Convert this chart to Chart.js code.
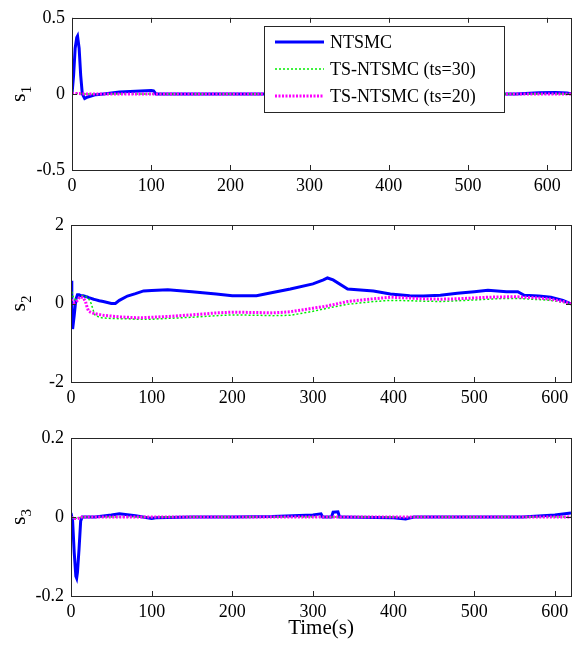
<!DOCTYPE html>
<html lang="en">
<head>
  <meta charset="UTF-8">
  <title>Sliding surfaces s1, s2, s3</title>
  <script src="https://cdn.jsdelivr.net/npm/chart.js"></script>
  <style>
    body { margin: 0; background: #fff; }
    #wrap { position: relative; width: 581px; height: 648px; }
    #wrap canvas { position: absolute; left: 0; }
  </style>
</head>
<body>
  <div id="wrap">
    <canvas id="c1" width="581" height="205" style="top:0"></canvas>
    <canvas id="c2" width="581" height="210" style="top:205px"></canvas>
    <canvas id="c3" width="581" height="233" style="top:415px"></canvas>
  </div>

  <script>
    const FONT = '"Liberation Serif", "Times New Roman", serif';
    const seriesNames = ['NTSMC', 'TS-NTSMC (ts=30)', 'TS-NTSMC (ts=20)'];
    const seriesColors = ['#0000ff', '#00ee00', '#ff00ff'];

    // s1
    const s1Time  = [0, 2, 4, 6, 7, 9, 11, 13, 16, 20, 30, 40, 60, 80, 100, 103, 106, 150, 200, 300, 400, 500, 560, 590, 610, 625, 630];
    const s1Ntsmc = [0, 0.12, 0.3, 0.37, 0.38, 0.3, 0.12, 0.0, -0.03, -0.02, -0.005, 0, 0.012, 0.018, 0.022, 0.02, 0, 0, 0, 0, 0, 0, 0, 0.008, 0.01, 0.006, 0];
    const s1Ts30  = [0, 0.003, 0.004, 0.003, 0.003, 0.002, 0.002, 0.001, 0, 0, 0, 0, 0, 0, 0, 0, 0, 0, 0, 0, 0, 0, 0, 0, 0, 0, 0];
    const s1Ts20  = [0, 0.002, 0.003, 0.003, 0.002, 0.002, 0.001, 0.001, 0, 0, 0, 0, 0, 0, 0, 0, 0, 0, 0, 0, 0, 0, 0, 0, 0, 0, 0];
    const s1XTicks = [0, 100, 200, 300, 400, 500, 600];
    const s1YTicks = [-0.5, 0, 0.5];

    // s2
    const s2Time  = [0, 1, 2, 4, 6, 8, 10, 12, 15, 18, 20, 22, 25, 28, 30, 35, 40, 50, 55, 60, 70, 80, 90, 100, 120, 150, 180, 200, 230, 250, 272, 300, 313, 318, 325, 343, 375, 396, 420, 437, 458, 479, 500, 517, 540, 554, 562, 580, 595, 610, 620];
    const s2Ntsmc = [0.58, -0.2, -0.65, -0.3, 0.1, 0.22, 0.22, 0.2, 0.2, 0.18, 0.17, 0.15, 0.13, 0.11, 0.1, 0.07, 0.05, 0.0, 0.0, 0.08, 0.19, 0.25, 0.32, 0.33, 0.35, 0.3, 0.24, 0.2, 0.2, 0.28, 0.37, 0.5, 0.6, 0.65, 0.6, 0.37, 0.32, 0.24, 0.2, 0.19, 0.21, 0.26, 0.3, 0.34, 0.3, 0.3, 0.21, 0.19, 0.16, 0.08, -0.01];
    const s2Ts30  = [0.4, 0.3, 0.2, 0.12, 0.1, 0.12, 0.15, 0.18, 0.2, 0.18, 0.15, 0.12, 0.0, -0.2, -0.3, -0.35, -0.37, -0.38, -0.38, -0.39, -0.39, -0.4, -0.4, -0.4, -0.38, -0.35, -0.31, -0.29, -0.3, -0.31, -0.3, -0.2, -0.14, -0.12, -0.09, -0.02, 0.05, 0.08, 0.07, 0.06, 0.05, 0.07, 0.09, 0.11, 0.13, 0.13, 0.12, 0.1, 0.08, 0.03, -0.03];
    const s2Ts20  = [0.1, 0.08, 0.05, 0.02, 0.03, 0.08, 0.14, 0.17, 0.15, 0.05, -0.1, -0.2, -0.23, -0.25, -0.26, -0.28, -0.3, -0.32, -0.33, -0.34, -0.35, -0.36, -0.36, -0.35, -0.33, -0.29, -0.24, -0.22, -0.23, -0.24, -0.21, -0.12, -0.08, -0.06, -0.03, 0.05, 0.12, 0.16, 0.14, 0.12, 0.11, 0.12, 0.14, 0.16, 0.17, 0.17, 0.16, 0.14, 0.11, 0.05, -0.01];
    const s2XTicks = [0, 100, 200, 300, 400, 500, 600];
    const s2YTicks = [-2, 0, 2];

    // s3
    const s3Time  = [0, 2, 4, 6, 7, 8, 10, 12, 14, 20, 30, 50, 60, 80, 100, 105, 150, 200, 250, 300, 310, 312, 323, 325, 331, 333, 335, 400, 415, 425, 500, 560, 600, 620];
    const s3Ntsmc = [0.01, -0.01, -0.09, -0.15, -0.155, -0.14, -0.08, -0.01, 0, 0, 0, 0.005, 0.008, 0.003, -0.004, -0.002, 0, 0, 0.001, 0.005, 0.008, 0, 0, 0.012, 0.013, 0, 0, -0.002, -0.005, 0, 0, 0, 0.005, 0.01];
    const s3Ts30  = [0, -0.002, -0.003, -0.003, -0.003, -0.003, -0.002, -0.001, 0, 0, 0, 0, 0, 0, 0, 0, 0, 0, 0, 0, 0, 0, 0, 0, 0, 0, 0, 0, 0, 0, 0, 0, 0, 0];
    const s3Ts20  = [0, -0.003, -0.004, -0.004, -0.004, -0.004, -0.003, -0.002, 0, 0, 0, 0, 0, 0, 0, 0, 0, 0, 0, 0, 0, 0, 0, 0, 0, 0, 0, 0, 0, 0, 0, 0, 0, 0];
    const s3XTicks = [0, 100, 200, 300, 400, 500, 600];
    const s3YTicks = [-0.2, 0, 0.2];

    function pts(t, v) {
      return t.map((x, i) => ({ x: x, y: v[i] }));
    }

    function makeDatasets(t, a, b, c) {
      return [
        { label: seriesNames[0], data: pts(t, a), borderColor: seriesColors[0], borderWidth: 3, order: 3 },
        { label: seriesNames[1], data: pts(t, b), borderColor: seriesColors[1], borderWidth: 1.5, borderDash: [2, 2], order: 2 },
        { label: seriesNames[2], data: pts(t, c), borderColor: seriesColors[2], borderWidth: 3, borderDash: [2, 1.5], order: 1 }
      ];
    }

    // box, inward ticks, y title with subscript, optional legend and x title
    const framePlugin = {
      id: 'frame',
      afterDatasetsDraw(chart, args, opts) {
        const ctx = chart.ctx;
        const a = chart.chartArea;
        const xs = chart.scales.x, ys = chart.scales.y;
        ctx.save();
        ctx.strokeStyle = '#262626';
        ctx.lineWidth = 1;
        ctx.strokeRect(Math.round(a.left) + 0.5, Math.round(a.top) + 0.5, Math.round(a.width), Math.round(a.height));
        ctx.beginPath();
        xs.ticks.forEach(t => {
          const px = Math.round(xs.getPixelForValue(t.value)) + 0.5;
          ctx.moveTo(px, a.top); ctx.lineTo(px, a.top + 5);
          ctx.moveTo(px, a.bottom); ctx.lineTo(px, a.bottom - 5);
        });
        ys.ticks.forEach(t => {
          const py = Math.round(ys.getPixelForValue(t.value)) + 0.5;
          ctx.moveTo(a.left, py); ctx.lineTo(a.left + 5, py);
          ctx.moveTo(a.right, py); ctx.lineTo(a.right - 5, py);
        });
        ctx.stroke();

        // y title
        ctx.fillStyle = '#000';
        ctx.save();
        ctx.translate(25, (a.top + a.bottom) / 2);
        ctx.rotate(-Math.PI / 2);
        ctx.textBaseline = 'alphabetic';
        ctx.font = '22px ' + FONT;
        const sw = ctx.measureText('s').width;
        ctx.font = '15px ' + FONT;
        const subw = ctx.measureText(opts.sub).width;
        const u0 = -(sw + subw) / 2;
        ctx.font = '22px ' + FONT;
        ctx.fillText('s', u0, 0);
        ctx.font = '15px ' + FONT;
        ctx.fillText(opts.sub, u0 + sw, 6);
        ctx.restore();

        if (opts.legend) {
          const lx = 264, ly = 26, lw = 240, lh = 86;
          ctx.fillStyle = '#fff';
          ctx.fillRect(lx, ly, lw, lh);
          ctx.strokeStyle = '#262626';
          ctx.strokeRect(lx + 0.5, ly + 0.5, lw, lh);
          const rows = [42, 69, 96];
          chart.data.datasets.forEach((ds, i) => {
            ctx.save();
            ctx.strokeStyle = ds.borderColor;
            ctx.lineWidth = ds.borderWidth;
            ctx.setLineDash(ds.borderDash || []);
            ctx.beginPath();
            ctx.moveTo(275, rows[i]);
            ctx.lineTo(324, rows[i]);
            ctx.stroke();
            ctx.restore();
            ctx.fillStyle = '#000';
            ctx.font = '18px ' + FONT;
            ctx.textBaseline = 'middle';
            ctx.fillText(ds.label, 330, rows[i] + 1);
          });
        }

        if (opts.xTitle) {
          ctx.fillStyle = '#000';
          ctx.font = '21px ' + FONT;
          ctx.textAlign = 'center';
          ctx.textBaseline = 'middle';
          ctx.fillText(opts.xTitle, 321, 213);
        }
        ctx.restore();
      }
    };

    function makePanel(id, p) {
      const canvas = document.getElementById(id);
      return new Chart(canvas.getContext('2d'), {
        type: 'line',
        data: { datasets: makeDatasets(p.t, p.a, p.b, p.c) },
        plugins: [framePlugin],
        options: {
          responsive: false,
          animation: false,
          parsing: false,
          elements: { point: { radius: 0 }, line: { tension: 0 } },
          layout: { padding: { top: p.top, right: 10, left: 0, bottom: 0 } },
          plugins: {
            legend: { display: false },
            tooltip: { enabled: false },
            frame: { sub: p.sub, legend: !!p.legend, xTitle: p.xTitle || '' }
          },
          scales: {
            x: {
              type: 'linear',
              min: 0,
              max: p.xMax,
              grid: { display: false, drawTicks: false },
              border: { display: false },
              afterBuildTicks: s => { s.ticks = p.xTicks.map(v => ({ value: v })); },
              afterFit: s => { s.height = canvas.height - p.bottom; },
              ticks: { padding: 5, color: '#000', font: { family: FONT, size: 18 }, maxRotation: 0, callback: v => String(v) }
            },
            y: {
              type: 'linear',
              min: p.yTicks[0],
              max: p.yTicks[p.yTicks.length - 1],
              grid: { display: false, drawTicks: false },
              border: { display: false },
              afterBuildTicks: s => { s.ticks = p.yTicks.map(v => ({ value: v })); },
              afterFit: s => { s.width = p.left; },
              ticks: { padding: 7, color: '#000', font: { family: FONT, size: 18 }, callback: v => String(v) }
            }
          }
        }
      });
    }

    makePanel('c1', { t: s1Time, a: s1Ntsmc, b: s1Ts30, c: s1Ts20, xTicks: s1XTicks, yTicks: s1YTicks,
      xMax: 630, top: 13, bottom: 170, left: 72, sub: '1', legend: true });
    makePanel('c2', { t: s2Time, a: s2Ntsmc, b: s2Ts30, c: s2Ts20, xTicks: s2XTicks, yTicks: s2YTicks,
      xMax: 620, top: 20, bottom: 177, left: 71, sub: '2' });
    makePanel('c3', { t: s3Time, a: s3Ntsmc, b: s3Ts30, c: s3Ts20, xTicks: s3XTicks, yTicks: s3YTicks,
      xMax: 620, top: 23, bottom: 181, left: 71, sub: '3', xTitle: 'Time(s)' });
  </script>
</body>
</html>
